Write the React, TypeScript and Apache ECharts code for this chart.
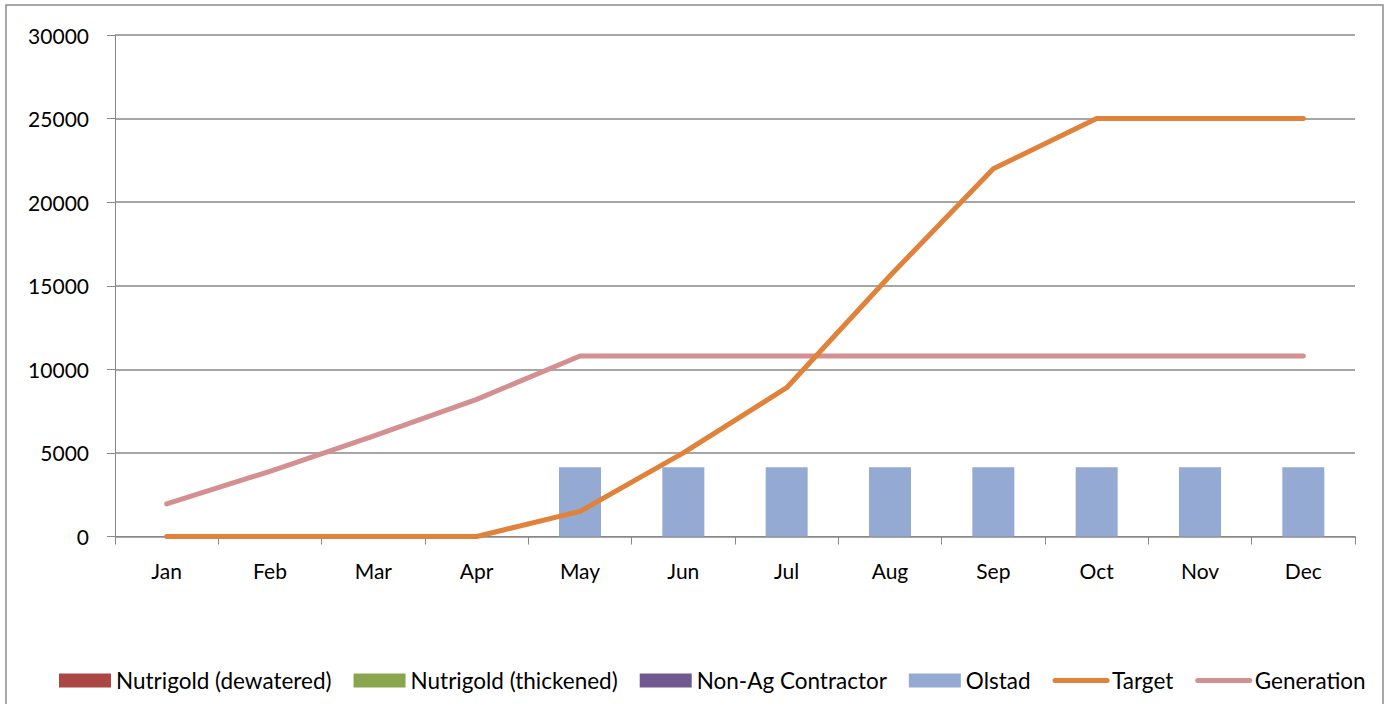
import React, { useEffect, useRef } from "react";
import * as echarts from "echarts";

const months = ["Jan", "Feb", "Mar", "Apr", "May", "Jun", "Jul", "Aug", "Sep", "Oct", "Nov", "Dec"];
const nutrigoldDewatered: (number | null)[] = [null, null, null, null, null, null, null, null, null, null, null, null];
const nutrigoldThickened: (number | null)[] = [null, null, null, null, null, null, null, null, null, null, null, null];
const nonAgContractor: (number | null)[] = [null, null, null, null, null, null, null, null, null, null, null, null];
const olstad: (number | null)[] = [null, null, null, null, 4150, 4150, 4150, 4150, 4150, 4150, 4150, 4150];
const target = [0, 0, 0, 0, 1500, 5000, 8900, 15600, 22000, 25000, 25000, 25000];
const generation = [1950, 3900, 6000, 8200, 10800, 10800, 10800, 10800, 10800, 10800, 10800, 10800];

const FONT = "Lato, 'Liberation Sans', sans-serif";
const GRAY = "#888888";

export default function App() {
  const ref = useRef<HTMLDivElement>(null);
  useEffect(() => {
    if (!ref.current) return;
    const chart = echarts.init(ref.current, undefined, { renderer: "svg" });
    const barNames = ["Nutrigold (dewatered)", "Nutrigold (thickened)", "Non-Ag Contractor", "Olstad"];
    const barColors = ["#AA4643", "#89A54E", "#71588F", "#95AAD3"];
    const barData = [nutrigoldDewatered, nutrigoldThickened, nonAgContractor, olstad];
    chart.setOption({
      animation: false,
      backgroundColor: "#ffffff",
      textStyle: { fontFamily: FONT },
      graphic: [
        {
          type: "rect",
          shape: { x: 6, y: 5, width: 1377, height: 760 },
          style: { fill: "none", stroke: "#8c8c8c", lineWidth: 1.5 },
          silent: true,
        },
      ],
      grid: { left: 115, right: 29, top: 35, bottom: 167.5, containLabel: false },
      legend: {
        left: 59,
        top: 669,
        width: 1320,
        padding: 0,
        itemGap: 22,
        itemWidth: 52,
        itemHeight: 14,
        textStyle: { fontFamily: FONT, fontSize: 22.5, color: "#000" },
        data: [
          ...barNames.map((n) => ({ name: n, icon: "rect" })),
          { name: "Target", lineStyle: { width: 5, cap: "round" }, itemStyle: { opacity: 0 } },
          { name: "Generation", lineStyle: { width: 5, cap: "round" }, itemStyle: { opacity: 0 } },
        ],
      },
      xAxis: {
        type: "category",
        data: months,
        boundaryGap: true,
        axisLine: { lineStyle: { color: GRAY, width: 1 } },
        axisTick: { show: true, length: 8, lineStyle: { color: GRAY } },
        axisLabel: { fontFamily: FONT, fontSize: 21, color: "#000", margin: 23 },
        splitLine: { show: false },
      },
      yAxis: {
        type: "value",
        min: 0,
        max: 30000,
        interval: 5000,
        axisLine: { show: true, lineStyle: { color: GRAY, width: 1 } },
        axisTick: { show: true, length: 8, lineStyle: { color: GRAY } },
        axisLabel: {
          fontFamily: FONT,
          fontSize: 21,
          color: "#000",
          margin: 26,
          formatter: (v: number) => String(v),
        },
        splitLine: { show: true, lineStyle: { color: GRAY, width: 1.5 } },
      },
      series: [
        ...barNames.map((n, i) => ({
          name: n,
          type: "bar",
          stack: "total",
          data: barData[i],
          barWidth: 42,
          itemStyle: { color: barColors[i] },
        })),
        {
          name: "Target",
          type: "line",
          data: target,
          symbol: "none",
          lineStyle: { color: "#E0823A", width: 5, cap: "round", join: "round" },
          itemStyle: { color: "#E0823A" },
          z: 3,
        },
        {
          name: "Generation",
          type: "line",
          data: generation,
          symbol: "none",
          lineStyle: { color: "#D49090", width: 5, cap: "round", join: "round" },
          itemStyle: { color: "#D49090" },
          z: 2,
        },
      ],
    });
    return () => chart.dispose();
  }, []);
  return (
    <div
      ref={ref}
      style={{ position: "fixed", left: 0, top: 0, width: 1384, height: 704 }}
    />
  );
}
